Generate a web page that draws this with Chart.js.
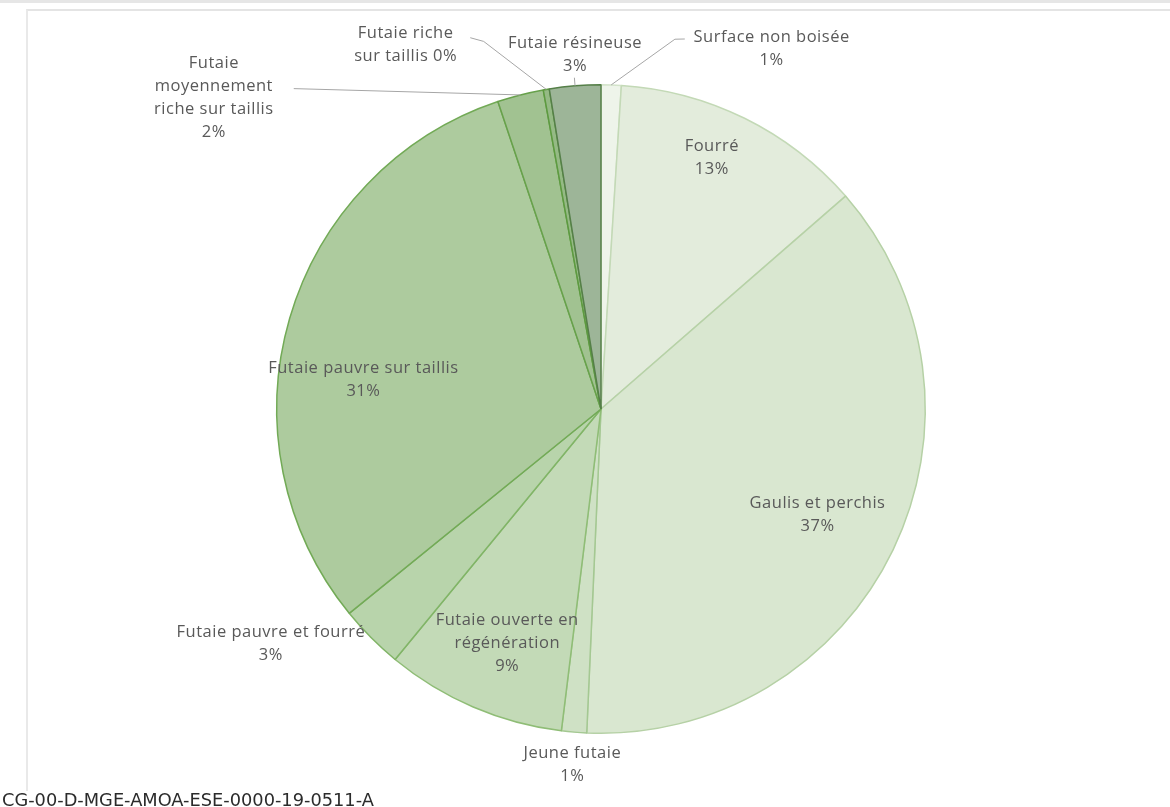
<!DOCTYPE html>
<html>
<head>
<meta charset="utf-8">
<script src="https://cdn.jsdelivr.net/npm/chart.js@4.4.1/dist/chart.umd.min.js"></script>
<style>
  html, body { margin: 0; padding: 0; background: #fff; }
  #wrap { position: relative; width: 1170px; height: 807px; overflow: hidden; }
  #topbar { position: absolute; left: 0; top: 0; width: 1170px; height: 3px; background: #e6e6e6; }
  #frame { position: absolute; left: 26px; top: 9px; width: 1150px; height: 780px;
           border-top: 2px solid #e4e4e4; border-left: 2px solid #e9e9e9; }
  #ref { position: absolute; left: 2px; top: 789px; font-family: "DejaVu Sans", sans-serif;
         font-size: 17.8px; color: #2b2b2b; white-space: nowrap; }
  canvas { position: absolute; left: 0; top: 0; }
</style>
</head>
<body>
<div id="wrap">
  <div id="topbar"></div>
  <div id="frame"></div>
  <canvas id="pie" width="1170" height="807"></canvas>
  <div id="ref">CG-00-D-MGE-AMOA-ESE-0000-19-0511-A</div>
</div>
<script>
// categories, clockwise from 12 o'clock
const CATEGORIES = [
  'Surface non boisée',
  'Fourré',
  'Gaulis et perchis',
  'Jeune futaie',
  'Futaie ouverte en régénération',
  'Futaie pauvre et fourré',
  'Futaie pauvre sur taillis',
  'Futaie moyennement riche sur taillis',
  'Futaie riche sur taillis',
  'Futaie résineuse'
];
// share of surface (%)
const SHARES = [1.0, 12.6, 37.1, 1.25, 9.0, 3.2, 30.7, 2.3, 0.3, 2.55];

// label text, {p} gets the rounded percentage
const LABEL_LINES = [
  ['Surface non boisée', '{p}'],
  ['Fourré', '{p}'],
  ['Gaulis et perchis', '{p}'],
  ['Jeune futaie', '{p}'],
  ['Futaie ouverte en', 'régénération', '{p}'],
  ['Futaie pauvre et fourré', '{p}'],
  ['Futaie pauvre sur taillis', '{p}'],
  ['Futaie', 'moyennement', 'riche sur taillis', '{p}'],
  ['Futaie riche', 'sur taillis {p}'],
  ['Futaie résineuse', '{p}']
];

const FILLS = ['#eef4ea', '#e3ecdc', '#d9e7d0', '#cfe1c5', '#c3dab7', '#b8d4ab', '#adcb9e', '#a1c291', '#95ba85', '#9db598'];
const BORDERS = ['#d3e3ca', '#c3d9b6', '#b6d1a6', '#a4c892', '#8fbd76', '#80b466', '#72aa56', '#67a14b', '#5d9a40', '#557f48'];

// label placement: block centre as [angle from top in degrees, radius factor]
// leader: extra polar points after the slice edge at mid angle
const LABEL_LAYOUT = [
  { at: [25.35, 1.229], leader: [[11.3, 1.163], [12.76, 1.170]] },
  { at: [23.8, 0.847] },
  { at: [116.0, 0.743] },
  { at: [184.6, 1.102] },
  { at: [201.8, 0.779] },
  { at: [234.6, 1.249] },
  { at: [276.9, 0.738] },
  { at: [308.8, 1.532], leader: [[316.2, 1.369]] },
  { at: [331.8, 1.275], leader: [[342.3, 1.19], [340.6, 1.214]] },
  { at: [355.8, 1.095], leader: [['mid', 1.025]] }
];

const TEXT_COLOR = '#595959';
const LEADER_COLOR = '#a6a6a6';
const LINE_H = 23;

const total = SHARES.reduce((a, b) => a + b, 0);

const sliceLabels = {
  id: 'sliceLabels',
  afterDatasetsDraw(chart) {
    const ctx = chart.ctx;
    const meta = chart.getDatasetMeta(0);
    ctx.save();
    meta.data.forEach((arc, i) => {
      const p = arc.getProps(['x', 'y', 'outerRadius', 'startAngle', 'endAngle'], true);
      const midDeg = ((p.startAngle + p.endAngle) / 2 + Math.PI / 2) * 180 / Math.PI;
      const polar = (deg, rf) => {
        const a = (deg === 'mid' ? midDeg : deg) * Math.PI / 180;
        return [p.x + rf * p.outerRadius * Math.sin(a), p.y - rf * p.outerRadius * Math.cos(a)];
      };
      const lay = LABEL_LAYOUT[i];

      if (lay.leader) {
        ctx.strokeStyle = LEADER_COLOR;
        ctx.lineWidth = 1;
        ctx.beginPath();
        const s = polar(midDeg, 1.0);
        ctx.moveTo(s[0], s[1]);
        lay.leader.forEach(pt => {
          const q = polar(pt[0], pt[1]);
          ctx.lineTo(q[0], q[1]);
        });
        ctx.stroke();
      }

      const pct = Math.round(SHARES[i] / total * 100) + '%';
      const lines = LABEL_LINES[i].map(t => t.replace('{p}', pct));
      const c = polar(lay.at[0], lay.at[1]);
      ctx.font = '16.5px "Open Sans", sans-serif';
      ctx.letterSpacing = '0.5px';
      ctx.fillStyle = TEXT_COLOR;
      ctx.textAlign = 'center';
      ctx.textBaseline = 'middle';
      const top = c[1] - (lines.length - 1) * LINE_H / 2;
      lines.forEach((t, k) => ctx.fillText(t, c[0], top + k * LINE_H));
    });
    ctx.restore();
  }
};

new Chart(document.getElementById('pie'), {
  type: 'pie',
  data: {
    labels: CATEGORIES,
    datasets: [{
      data: SHARES,
      backgroundColor: FILLS,
      borderColor: BORDERS,
      borderWidth: 1.5
    }]
  },
  options: {
    responsive: false,
    animation: false,
    events: [],
    layout: { padding: { top: 84, bottom: 73, left: 276, right: 244 } },
    plugins: {
      legend: { display: false },
      tooltip: { enabled: false }
    }
  },
  plugins: [sliceLabels]
});
</script>
</body>
</html>
